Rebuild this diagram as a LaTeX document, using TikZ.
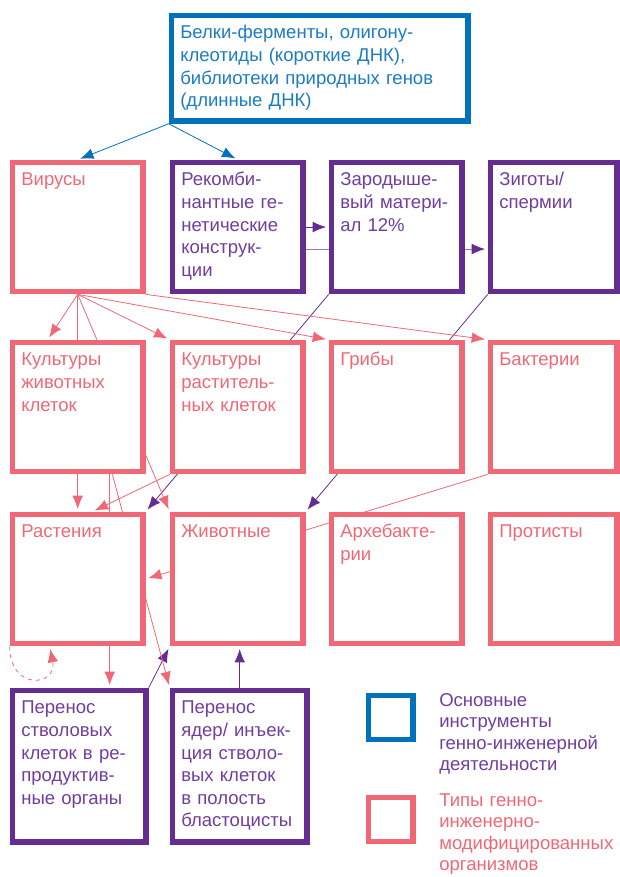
\documentclass[tikz,border=0pt]{standalone}
\usepackage{fontspec}
\setmainfont{Liberation Sans}
\usetikzlibrary{arrows.meta}
\usetikzlibrary{backgrounds}
\definecolor{gmpink}{RGB}{240,104,118}
\definecolor{gmpurple}{RGB}{102,45,145}
\definecolor{gmpurpletxt}{RGB}{112,62,160}
\definecolor{gmblue}{RGB}{0,114,188}
\definecolor{gmbluetxt}{RGB}{28,124,194}
\tikzset{>={Latex[length=10pt,width=8pt]}}
\newcommand{\boxfont}{\fontsize{13.9pt}{16.9pt}\selectfont}
\newcommand{\legfont}{\fontsize{13.9pt}{16.2pt}\selectfont}

\begin{document}
\begin{tikzpicture}[x=0.75pt,y=-0.75pt]
  \tikzstyle{unit}=[draw,line width=4pt,fill=white,anchor=north west,inner sep=0pt,minimum width=98pt,minimum height=97pt]
  \tikzstyle{boxtxt}=[anchor=base west,xshift=8.5pt,yshift=-19.7pt,inner sep=0pt,text width=200pt,align=left,font=\boxfont]
  \tikzstyle{pinktxt}=[boxtxt,text=gmpink]
  \tikzstyle{purpletxt}=[boxtxt,text=gmpurpletxt]
  \tikzstyle{legtxt}=[anchor=base west,inner sep=0pt,text width=200pt,align=left,font=\legfont]
  \tikzstyle{pinkconn}=[draw=gmpink,line width=0.6pt,->,shorten >=2pt]
  \tikzstyle{purpleconn}=[draw=gmpurple,line width=0.6pt,->,shorten >=2pt]
  \tikzstyle{blueconn}=[draw=gmblue,line width=0.6pt,->,shorten >=2pt]
  \useasboundingbox (0,0) rectangle (619,877);

  \node[unit,draw=gmblue,minimum width=222.5pt,minimum height=79.3pt,
    label={[boxtxt,text=gmbluetxt]north west:{Белки-ферменты, олигону-\\клеотиды (короткие ДНК),\\библиотеки природных генов\\(длинные ДНК)}}] (instr) at (168.7,12.7) {};

  % ряд 1
  \node[unit,draw=gmpink,label={[pinktxt]north west:Вирусы}] (vir) at (9.7,159.7) {};
  \node[unit,draw=gmpurple,label={[purpletxt]north west:{Рекомби-\\нантные ге-\\нетические\\конструк-\\ции}}] (rec) at (169.7,159.7) {};
  \node[unit,draw=gmpurple,label={[purpletxt]north west:{Зародыше-\\вый матери-\\ал 12\%}}] (zar) at (328.7,159.7) {};
  \node[unit,draw=gmpurple,minimum width=95pt,label={[purpletxt]north west:{Зиготы/\\спермии}}] (zig) at (487.7,159.7) {};

  % ряд 2
  \node[unit,draw=gmpink,label={[pinktxt]north west:{Культуры\\животных\\клеток}}] (kzh) at (9.7,339.7) {};
  \node[unit,draw=gmpink,label={[pinktxt]north west:{Культуры\\раститель-\\ных клеток}}] (kr) at (169.7,339.7) {};
  \node[unit,draw=gmpink,label={[pinktxt]north west:Грибы}] (gri) at (328.7,339.7) {};
  \node[unit,draw=gmpink,minimum width=95pt,label={[pinktxt]north west:Бактерии}] (bak) at (487.7,339.7) {};

  % ряд 3
  \node[unit,draw=gmpink,label={[pinktxt]north west:Растения}] (ras) at (9.7,511.7) {};
  \node[unit,draw=gmpink,label={[pinktxt]north west:Животные}] (zhi) at (169.7,511.7) {};
  \node[unit,draw=gmpink,label={[pinktxt]north west:{Архебакте-\\рии}}] (arh) at (328.7,511.7) {};
  \node[unit,draw=gmpink,minimum width=95pt,label={[pinktxt]north west:Протисты}] (pro) at (487.7,511.7) {};

  % ряд 4
  \node[unit,draw=gmpurple,minimum width=100.3pt,minimum height=113.8pt,
    label={[purpletxt]north west:{Перенос\\стволовых\\клеток в ре-\\продуктив-\\ные органы}}] (per1) at (9.7,687.7) {};
  \node[unit,draw=gmpurple,minimum width=101pt,minimum height=113.8pt,
    label={[purpletxt]north west:{Перенос\\ядер/ инъек-\\ция стволо-\\вых клеток\\в полость\\бластоцисты}}] (per2) at (169.7,687.7) {};

  % легенда
  \node[unit,draw=gmblue,minimum width=33.5pt,minimum height=33pt] (legb) at (365.7,692.7) {};
  \node[unit,draw=gmpink,minimum width=33.5pt,minimum height=33pt] (legp) at (365.7,794.7) {};
  \node[legtxt,text=gmpurpletxt] (legbt) at (439,706) {Основные\\инструменты\\генно-инженерной\\деятельности};
  \node[legtxt,text=gmpink] (legpt) at (439,806) {Типы генно-\\инженерно-\\модифицированных\\организмов};

  \begin{pgfonlayer}{background}
    \draw[blueconn] (instr.south west) -- (vir.north);
    \draw[blueconn] (instr.south west) -- (rec.north);
    \draw[purpleconn] (rec.east) -- (zar.west);
    \draw[purpleconn,draw=gmpurple!65,-{Latex[length=10pt,width=8pt,color=gmpurple]}] ([yshift=-16.5pt]rec.east) -- ([yshift=-16.5pt]zig.west);
    \draw[purpleconn] (zar.south west) -- (ras.north east);
    \draw[purpleconn] (zig.south west) -- (zhi.north east);
    \draw[purpleconn] (per1.north east) -- (zhi.south west);
    \draw[purpleconn] (per2.north) -- (zhi.south -| per2.north);
    \draw[pinkconn] (vir.south) -- ([xshift=-22.5pt]kzh.north);
    \draw[pinkconn] (vir.south) -- (ras.north);
    \draw[pinkconn] (vir.south) -- (zhi.north west);
    \draw[pinkconn] (vir.south) -- (kr.north west);
    \draw[pinkconn] (vir.south) -- (gri.north west);
    \draw[pinkconn] (vir.south east) -- (bak.north west);
    \draw[pinkconn] (kr.south west) -- ([xshift=11pt]ras.north);
    \draw[pinkconn] ([xshift=24pt]kzh.south) -- ([xshift=24pt]kzh.south |- per1.north);
    \draw[pinkconn] ([xshift=26pt]kzh.south) -- (per2.north west);
    \draw[pinkconn] (bak.south west) -- (ras.east);
    \draw[pinkconn,dashed] (ras.south west) .. controls +(0,45) and +(8,40) .. ([xshift=30pt]ras.south west);
  \end{pgfonlayer}
\end{tikzpicture}
\end{document}
